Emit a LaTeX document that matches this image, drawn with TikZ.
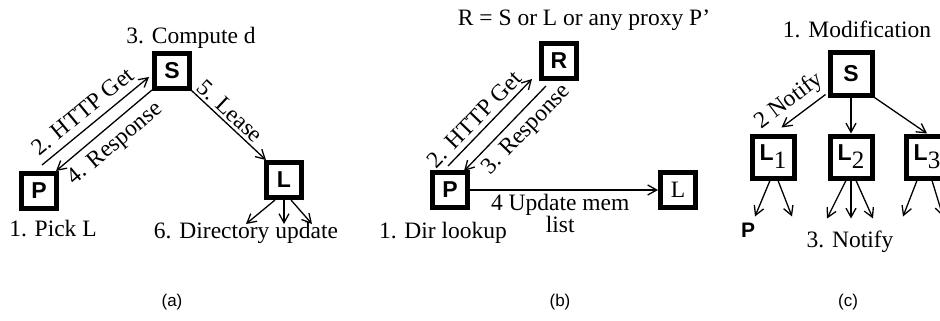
\documentclass[tikz,border=0pt]{standalone}
\usepackage{fontspec}
\setmainfont{Liberation Serif}
\setsansfont{Liberation Sans}
\usetikzlibrary{arrows.meta,positioning}

\newcommand{\Lsub}[1]{L\raisebox{-8pt}{\rmfamily\mdseries\fontsize{25}{25}\selectfont #1}}

\begin{document}
\begin{tikzpicture}[x=1pt, y=-1pt, >={Straight Barb[length=9pt,width=10pt]}]
	\tikzset{
		agent/.style={rectangle, draw=black, line width=5pt, minimum size=35pt, inner sep=0pt, font=\fontsize{23}{23}\sffamily\bfseries\selectfont},
		bigagent/.style={agent, minimum size=42pt},
		note/.style={font=\fontsize{23.5}{22}\selectfont, inner sep=0pt, anchor=base},
		lbl/.style={font=\fontsize{23.5}{22}\selectfont, inner sep=4pt, sloped},
		arrow/.style={->, line width=1.3pt},
		caption/.style={font=\fontsize{17}{17}\sffamily\selectfont, inner sep=0pt, anchor=base},
	}
	\useasboundingbox (0,0) rectangle (940,321);
	% (a)
	\node[agent](Sa) at (172,71) {S};
	\node[agent](Pa) at (39,191) {P};
	\node[agent](La) at (284,180) {L};
	\node[note](compute) at (191,44) {3. Compute d};
	\node[note](pick) at (53,236) {1. Pick L};
	\node[note](dirupd) at (246,238) {6. Directory update};
	\draw[arrow] ([xshift=3pt,yshift=6pt]Pa.north) -- node[lbl, above, pos=0.47, inner sep=7pt] {2. HTTP Get} ([xshift=-3pt,yshift=-6pt]Sa.west);
	\draw[arrow] ([yshift=1pt]Sa.south west) -- node[lbl, below, pos=0.5, inner sep=7pt] {4. Response} ([xshift=-3pt]Pa.north east);
	\draw[arrow] ([xshift=-1pt,yshift=1pt]Sa.south east) -- node[lbl, above, pos=0.42, inner sep=3pt] {5. Lease} ([xshift=2pt]La.north west);
	\foreach \s/\e in {-9/-38, 0/0, 7/28}
		\draw[arrow] ([xshift=\s pt]La.south) -- ([xshift=\e pt,yshift=-24pt]La.south);
	% (b)
	\node[agent](Rb) at (559,61) {R};
	\node[agent](Pb) at (450,190) {P};
	\node[agent, font=\fontsize{23.5}{22}\rmfamily\mdseries\selectfont](Lb) at (678,190) {L};
	\node[note](proxy) at (584,26) {R = S or L or any proxy P'};
	\node[note](lookup) at (443,238) {1. Dir lookup};
	\draw[arrow] ([xshift=-2pt,yshift=4pt]Pb.north) -- node[lbl, above, pos=0.43, inner sep=5pt] {2. HTTP Get} ([xshift=-7pt,yshift=2pt]Rb.south west);
	\draw[arrow] ([xshift=7pt,yshift=-5pt]Rb.south west) -- node[lbl, below, pos=0.38, inner sep=6pt] {3. Response} ([xshift=-6pt,yshift=-1pt]Pb.north east);
	\draw[arrow] (Pb.east) -- node[below, pos=0.48, align=center, font=\fontsize{23.5}{22}\selectfont, inner sep=4pt] {4 Update mem\\list} (Lb.west);
	% (c)
	\node[bigagent](Sc) at (851,74) {S};
	\node[bigagent](L1) at (773,157) {\Lsub{1}};
	\node[bigagent](L2) at (851,157) {\Lsub{2}};
	\node[bigagent](L3) at (927,157) {\Lsub{3}};
	\node[note](modif) at (857,38) {1. Modification};
	\node[note](notify) at (850,247) {3. Notify};
	\node[note, font=\fontsize{21}{21}\sffamily\bfseries\selectfont](Pc) at (748,237) {P};
	\draw[arrow] ([xshift=-2pt,yshift=3pt]Sc.south west) -- node[lbl, above, pos=0.6, inner sep=5pt] {2 Notify} ([xshift=-15pt,yshift=6pt]L1.north east);
	\draw[arrow] (Sc.south) -- (L2.north);
	\draw[arrow] (Sc.south east) -- (L3.north);
	\foreach \s/\e in {-3/-18, 5/19}
		\draw[arrow] ([xshift=\s pt]L1.south) -- ([xshift=\e pt,yshift=-36pt]L1.south);
	\foreach \s/\e in {-5/-24, 0/0, 5/22}
		\draw[arrow] ([xshift=\s pt]L2.south) -- ([xshift=\e pt,yshift=-38pt]L2.south);
	\foreach \s/\e in {-10/-24, 5/16}
		\draw[arrow] ([xshift=\s pt]L3.south) -- ([xshift=\e pt,yshift=-36pt]L3.south);
	% captions
	\node[caption](capa) at (172,306) {(a)};
	\node[caption](capb) at (560,306) {(b)};
	\node[caption](capc) at (848,306) {(c)};
\end{tikzpicture}
\end{document}
